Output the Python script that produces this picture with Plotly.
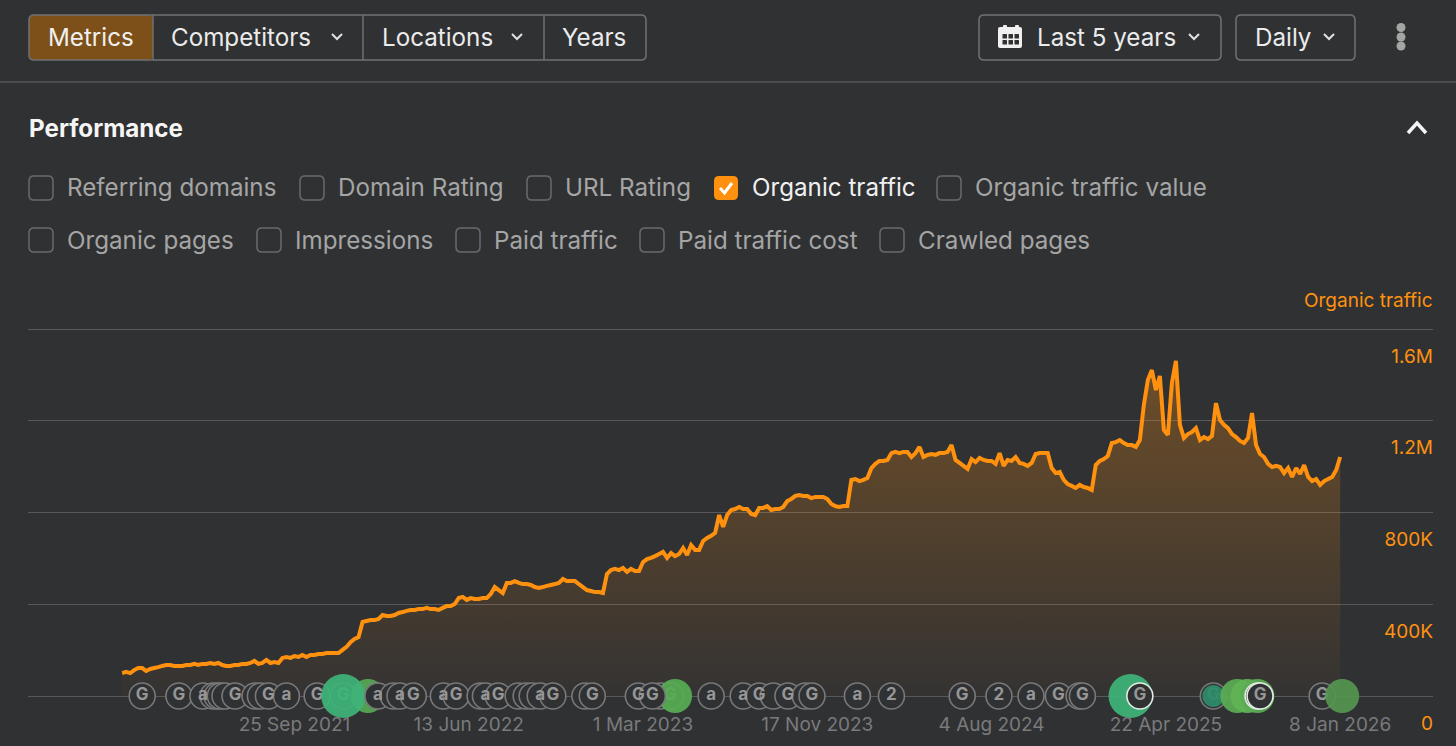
# ahrefs style performance panel, organic traffic only
import pandas as pd
import plotly.graph_objects as go

W = 1456
H = 746
BG = 'rgb(48,49,51)'
ORANGE = 'rgb(255,145,15)'
FONT = 'Inter'

# organic traffic in thousands, one reading every 6 days up to last_date
last_date = pd.Timestamp('2026-01-08')
traffic_k = [
    100, 105, 100, 113, 122, 122, 109, 118, 122, 126, 131, 135, 135, 131, 131, 131, 135, 135, 140, 135,
    140, 140, 144, 140, 144, 135, 131, 131, 135, 135, 140, 140, 144, 153, 140, 144, 157, 144, 148, 144,
    166, 170, 166, 174, 170, 179, 170, 179, 179, 183, 183, 187, 187, 187, 187, 201, 214, 235, 249, 257,
    323, 327, 331, 331, 336, 353, 349, 349, 353, 362, 366, 371, 375, 375, 379, 379, 384, 379, 379, 375,
    384, 392, 392, 401, 427, 432, 419, 427, 423, 423, 427, 427, 445, 475, 462, 449, 493, 493, 501, 493,
    488, 488, 484, 475, 471, 475, 480, 484, 488, 493, 510, 501, 501, 501, 488, 475, 462, 458, 453, 453,
    449, 532, 549, 554, 549, 558, 541, 554, 545, 545, 584, 597, 602, 610, 619, 628, 602, 623, 610, 619,
    645, 615, 658, 637, 637, 676, 689, 698, 711, 789, 737, 789, 811, 815, 824, 815, 815, 794, 789, 820,
    820, 828, 811, 815, 815, 824, 850, 859, 872, 876, 872, 872, 863, 868, 868, 868, 859, 837, 828, 824,
    828, 828, 942, 946, 937, 942, 950, 994, 1012, 1025, 1025, 1029, 1059, 1064, 1059, 1064, 1064, 1042, 1059, 1086,
    1042, 1051, 1055, 1051, 1059, 1059, 1064, 1094, 1029, 1016, 1003, 990, 1033, 1020, 1038, 1029, 1025, 1025, 1012, 1059,
    1003, 1029, 1025, 1042, 1016, 1012, 1003, 1016, 1055, 1059, 1059, 1059, 994, 972, 977, 942, 924, 916, 907, 920,
    911, 907, 898, 1007, 1025, 1033, 1046, 1103, 1107, 1116, 1103, 1094, 1094, 1086, 1116, 1269, 1378, 1421, 1334, 1395,
    1160, 1138, 1365, 1461, 1182, 1125, 1142, 1151, 1168, 1116, 1129, 1120, 1134, 1277, 1203, 1182, 1168, 1142, 1129, 1112,
    1103, 1125, 1234, 1094, 1055, 1042, 1012, 998, 1003, 998, 972, 994, 955, 994, 968, 1007, 955, 937, 946, 920,
    937, 946, 955, 985, 1042,
]

y_tick_vals = [0, 400000, 800000, 1200000, 1600000]
y_tick_text = ['0', '400K', '800K', '1.2M', '1.6M']
x_tick_dates = ['2021-09-25', '2022-06-13', '2023-03-01', '2023-11-17', '2024-08-04', '2025-04-22', '2026-01-08']
x_tick_text = ['25 Sep 2021', '13 Jun 2022', '1 Mar 2023', '17 Nov 2023', '4 Aug 2024', '22 Apr 2025', '8 Jan 2026']

# update markers on the zero line, days before last_date
under_days = [1532, 1493, 1018, 1003, 190, 27]
under_labels = ['G', 'G', '', 'G', 'G', 'G']
green_days = [1456, 1493, 996, 314, 190, 154, 139, 124, -3]
green_sizes = [34, 44, 34, 44, 22, 34, 34, 34, 34]
green_colors = ['rgb(86,168,84)', 'rgb(62,180,120)', 'rgb(86,172,84)', 'rgb(62,180,120)', 'rgb(45,140,105)',
                'rgb(90,172,85)', 'rgb(96,180,85)', 'rgb(90,172,85)', 'rgb(84,150,80)']
over_days = [1794, 1739, 1703, 1688, 1682, 1677, 1670, 1655, 1625, 1617, 1605, 1578, 1441, 1418, 1408, 1388,
             1343, 1324, 1288, 1280, 1261, 1231, 1219, 1210, 1198, 1179, 1131, 1120, 1051, 1030, 942, 894,
             870, 849, 827, 801, 791, 723, 672, 566, 511, 463, 422, 391, 386]
over_labels = ['G', 'G', 'a', '', '', '', '', 'G', '', '', 'G', 'a', 'a', '', 'a', 'G',
               'a', 'G', '', 'a', 'G', '', '', '', 'a', 'G', '', 'G', 'G', 'G', 'a', 'a',
               'G', '', 'G', '', 'G', 'a', '2', 'G', '2', 'a', 'G', '', 'G']
top_days = [300, 123, 120]
top_labels = ['G', '', 'G']

# text of the panel above the chart
row1_labels = ['Referring domains', 'Domain Rating', 'URL Rating', 'Organic traffic', 'Organic traffic value']
row2_labels = ['Organic pages', 'Impressions', 'Paid traffic', 'Paid traffic cost', 'Crawled pages']
row1_boxes = [29, 300, 527, 714, 937]
row2_boxes = [29, 257, 456, 640, 880]


def fx(px):
    return px / W


def fy(py):
    return 1 - py / H


def path_pts(pts):
    return 'M ' + ' L '.join(f'{fx(x):.5f} {fy(y):.5f}' for x, y in pts)


def round_rect(x0, y0, x1, y1, r):
    # rounded box as a svg path in paper coordinates
    p = lambda x, y: f'{fx(x):.5f} {fy(y):.5f}'
    return (f'M {p(x0 + r, y0)} L {p(x1 - r, y0)} Q {p(x1, y0)} {p(x1, y0 + r)} '
            f'L {p(x1, y1 - r)} Q {p(x1, y1)} {p(x1 - r, y1)} L {p(x0 + r, y1)} '
            f'Q {p(x0, y1)} {p(x0, y1 - r)} L {p(x0, y0 + r)} Q {p(x0, y0)} {p(x0 + r, y0)} Z')


shapes = []


def add_path(path, line=None, fill=None, width=1.5):
    shapes.append(dict(type='path', xref='paper', yref='paper', path=path, layer='above',
                       line=dict(color=line or 'rgba(0,0,0,0)', width=width if line else 0),
                       fillcolor=fill or 'rgba(0,0,0,0)'))


def add_line(x0, y0, x1, y1, color, width=1):
    shapes.append(dict(type='line', xref='paper', yref='paper', x0=fx(x0), y0=fy(y0), x1=fx(x1), y1=fy(y1),
                       line=dict(color=color, width=width), layer='above'))


def chevron_down(cx, cy):
    add_path(path_pts([(cx - 5, cy - 3), (cx, cy + 2), (cx + 5, cy - 3)]), line='rgb(225,225,225)', width=2)


annotations = []


def add_text(x, y, text, color, size=24.2, anchor='left', weight=None):
    font = dict(family=FONT, size=size, color=color)
    if weight:
        font['weight'] = weight
    annotations.append(dict(xref='paper', yref='paper', x=fx(x), y=fy(y), text=text, showarrow=False,
                            xanchor=anchor, yanchor='middle', font=font, borderpad=0, borderwidth=0))


BORDER = 'rgb(112,113,115)'

# top button group
add_path(round_rect(29, 15, 153, 60, 5), fill='rgb(125,80,25)')
add_path(round_rect(29, 15, 646, 60, 5), line=BORDER)
add_line(153, 15, 153, 60, BORDER, 1.5)
add_line(363, 15, 363, 60, BORDER, 1.5)
add_line(544, 15, 544, 60, BORDER, 1.5)
add_text(48, 37, 'Metrics', 'rgb(240,240,240)')
add_text(171, 37, 'Competitors', 'rgb(235,235,235)')
chevron_down(337, 37)
add_text(382, 37, 'Locations', 'rgb(235,235,235)')
chevron_down(517, 37)
add_text(562, 37, 'Years', 'rgb(235,235,235)')

# date range, interval, menu
add_path(round_rect(979, 15, 1221, 60, 5), line=BORDER)
add_path(round_rect(1236, 15, 1355, 60, 5), line=BORDER)
add_path(round_rect(998, 27, 1022, 48, 2), fill='rgb(240,240,240)')
for tx in (1003, 1015):
    add_path(round_rect(tx, 25, tx + 4, 30, 1), fill='rgb(240,240,240)')
for gx in (1002.5, 1008.5, 1014.5):
    for gy in (34, 40):
        add_path(round_rect(gx, gy, gx + 4.5, gy + 4.5, 0.5), fill=BG)
add_text(1037, 37, 'Last 5 years', 'rgb(235,235,235)')
chevron_down(1194, 37)
add_text(1255, 37, 'Daily', 'rgb(235,235,235)')
chevron_down(1329, 37)
for dy in (27.5, 37, 46):
    shapes.append(dict(type='circle', xref='paper', yref='paper', x0=fx(1396.5), x1=fx(1405.5), y0=fy(dy + 4.5),
                       y1=fy(dy - 4.5), fillcolor='rgb(165,165,165)', line=dict(width=0), layer='above'))
add_line(0, 82, W, 82, 'rgb(85,86,88)', 1.5)

# section header
add_text(29, 128, 'Performance', 'rgb(245,245,245)', weight=700)
add_path(path_pts([(1408, 133), (1417, 123), (1426, 133)]), line='rgb(245,245,245)', width=3.5)


# metric checkboxes
def add_checks(labels, boxes, cy):
    for label, bx in zip(labels, boxes):
        on = label == 'Organic traffic'
        if on:
            add_path(round_rect(bx, cy - 12, bx + 24, cy + 12, 5), fill=ORANGE)
            add_path(path_pts([(bx + 6, cy), (bx + 10.5, cy + 5), (bx + 18, cy - 5)]), line='white', width=3)
        else:
            add_path(round_rect(bx, cy - 12, bx + 24, cy + 12, 5), line='rgb(105,106,108)')
        add_text(bx + 38, cy, label, 'rgb(240,240,240)' if on else 'rgb(165,165,165)')


add_checks(row1_labels, row1_boxes, 188)
add_checks(row2_labels, row2_boxes, 240)
add_text(1433, 300, 'Organic traffic', ORANGE, size=19, anchor='right')

# the chart itself
dates = pd.date_range(end=last_date, periods=len(traffic_k), freq='6D')
traffic = [v * 1000 for v in traffic_k]


def to_dates(days):
    return [last_date - pd.Timedelta(days=d) for d in days]


fig = go.Figure()

fig.add_trace(go.Scatter(
    x=dates, y=traffic, mode='lines', line=dict(color=ORANGE, width=4, simplify=False), fill='tozeroy',
    fillgradient=dict(type='vertical', colorscale=[[0, 'rgba(255,145,15,0.02)'], [1, 'rgba(255,145,15,0.30)']]),
    hoverinfo='skip', cliponaxis=False,
))


def add_events(days, labels, ring):
    fig.add_trace(go.Scatter(
        x=to_dates(days), y=[0] * len(days), mode='markers+text', text=labels, textposition='middle center',
        textfont=dict(family=FONT, size=17, color='rgb(150,150,150)', weight=700),
        marker=dict(size=26, color=BG, line=dict(color=ring, width=1.6)),
        hoverinfo='skip', cliponaxis=False,
    ))


add_events(under_days, under_labels, 'rgb(120,120,122)')

fig.add_trace(go.Scatter(
    x=to_dates(green_days), y=[0] * len(green_days), mode='markers',
    marker=dict(size=green_sizes, color=green_colors, opacity=0.93, line=dict(width=0)),
    hoverinfo='skip', cliponaxis=False,
))

add_events(over_days, over_labels, 'rgb(120,120,122)')
add_events(top_days, top_labels, 'rgb(225,235,225)')

# y range runs past 0 and 1.6M so the end grid lines and the shifted labels stay, x axis pinned at 0
y_low = -200000
y_high = 1650000
px_per_unit = 367 / 1600000

fig.update_layout(
    width=W,
    height=H,
    autosize=False,
    margin=dict(l=0, r=0, t=0, b=0),
    paper_bgcolor=BG,
    plot_bgcolor=BG,
    showlegend=False,
    shapes=shapes,
    annotations=annotations,
    xaxis=dict(
        domain=[fx(28), fx(1433)],
        range=[last_date - pd.Timedelta(days=1965), last_date + pd.Timedelta(days=139)],
        anchor='free',
        position=fy(696),
        tickmode='array',
        tickvals=x_tick_dates,
        ticktext=x_tick_text,
        tickfont=dict(family=FONT, size=19, color='rgb(122,122,124)'),
        ticks='outside',
        ticklen=11,
        tickcolor='rgba(0,0,0,0)',
        showgrid=False,
        showline=False,
        zeroline=False,
    ),
    yaxis=dict(
        domain=[fy(696 - y_low * px_per_unit), fy(696 - y_high * px_per_unit)],
        range=[y_low, y_high],
        side='right',
        anchor='free',
        position=fx(1436),
        tickmode='array',
        tickvals=y_tick_vals,
        ticktext=y_tick_text,
        ticklabelposition='inside',
        ticklabelshift=27,
        tickfont=dict(family=FONT, size=19, color=ORANGE),
        ticklen=0,
        gridcolor='rgb(88,89,91)',
        gridwidth=1.2,
        showline=False,
        zeroline=False,
    ),
)

fig.write_html("out.html", config=dict(displayModeBar=False),
               post_script="document.body.style.margin='0';document.body.style.overflow='hidden';")
